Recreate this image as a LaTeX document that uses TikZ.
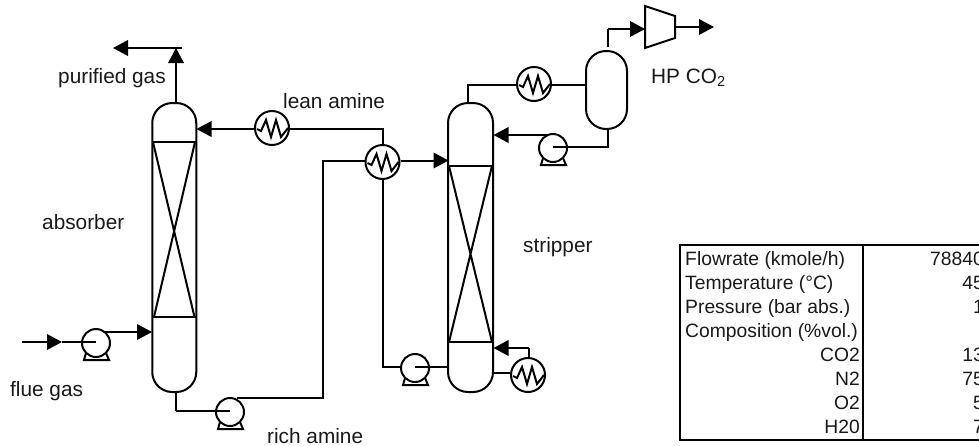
\documentclass[tikz,border=0pt]{standalone}
\usepackage{fontspec}
\setmainfont{Liberation Sans}
\usetikzlibrary{arrows.meta}
\tikzset{
  lin/.style={draw=black,line width=2pt,line join=miter},
  flow/.style={lin,-{Triangle[length=15pt,width=15.5pt]}},
  column/.style={draw=black,line width=2pt,rounded corners=20pt,inner sep=0pt,minimum width=#1,fill=white},
  hx/.style={draw=black,line width=2pt,circle,inner sep=0pt,minimum size=34pt,fill=white},
  pumpbody/.style={draw=black,line width=2pt,circle,inner sep=0pt,minimum size=28pt,fill=white},
  lab/.style={font=\fontsize{20.8pt}{24pt}\selectfont,anchor=base west,inner sep=0pt,text=black!90},
  cell/.style={font=\fontsize{19.3pt}{24pt}\selectfont,inner sep=0pt,text=black!90},
}
\newcommand{\zigzag}[1]{\draw[line width=2pt,line join=miter] ([shift={(-15,1)}]#1.center) -- ([shift={(-11,3)}]#1.center) -- ([shift={(-6,-8)}]#1.center) -- ([shift={(-1,9)}]#1.center) -- ([shift={(4,-8)}]#1.center) -- ([shift={(9,9)}]#1.center) -- ([shift={(16,0)}]#1.center);}
\newcommand{\pumpfoot}[1]{\draw[line width=2pt,line join=miter] ([shift={(-10,10)}]#1.center) -- ([shift={(-12,17)}]#1.center) -- ([shift={(13,17)}]#1.center) -- ([shift={(10,10)}]#1.center);}
\begin{document}
\begin{tikzpicture}[x=1pt,y=-1pt]
\useasboundingbox (0,0) rectangle (979,445);
\clip (0,0) rectangle (979,445);

% ports
\coordinate (absTop) at (176,103);
\coordinate (purA) at (176,48);
\coordinate (purB) at (182,48);
\coordinate (purC) at (113,48);
\coordinate (absLean) at (196.5,129);
\coordinate (leanBend) at (383,129);
\coordinate (absFeed) at (152,332);
\coordinate (flueIn) at (22,342);
\coordinate (flueTip) at (62,342);
\coordinate (flueOut) at (105,332);
\coordinate (absBot) at (176,392);
\coordinate (richA) at (176,411);
\coordinate (richOut) at (237,398);
\coordinate (richB) at (323,398);
\coordinate (richC) at (323,160.5);
\coordinate (strFeed) at (448.5,160.5);
\coordinate (retA) at (383,367);
\coordinate (strBotL) at (449,367);
\coordinate (strTop) at (468,103);
\coordinate (ovA) at (468,85);
\coordinate (vesL) at (586,85);
\coordinate (vesTop) at (608,47);
\coordinate (vesTopB) at (608,29);
\coordinate (compIn) at (645,29);
\coordinate (compOut) at (675,27);
\coordinate (compTip) at (714,27);
\coordinate (vesBot) at (608,129);
\coordinate (vesBotB) at (608,147);
\coordinate (refOut) at (548,135);
\coordinate (strRef) at (493.5,135);
\coordinate (strReb) at (493,373);
\coordinate (rebTop) at (529,358);
\coordinate (rebB) at (529,348);
\coordinate (strRet) at (493.5,348);

% equipment
\node[column=44pt,minimum height=289pt] (absorber) at (174.25,247.5) {};
\node[column=45pt,minimum height=289pt] (stripper) at (470.5,247.5) {};
\node[column=41pt,minimum height=78pt] (vessel) at (606.5,90) {};
\node[hx] (hxa) at (272,128) {};
\node[hx] (hxb) at (382.5,162) {};
\node[hx] (hxc) at (534,84) {};
\node[hx] (hxd) at (528,375) {};
\node[pumpbody] (pumpa) at (96,343) {};
\node[pumpbody] (pumpb) at (230,412) {};
\node[pumpbody] (pumpc) at (415,368) {};
\node[pumpbody] (pumpd) at (553,148) {};

% packing
\draw[line width=2pt] (152.5,142) -- (196,142);
\draw[line width=2pt] (152.5,317) -- (196,317);
\draw[line width=2pt] (153,142) -- (194.5,317) (195,142) -- (154,317);
\draw[line width=2pt] (448,166) -- (493,166);
\draw[line width=2pt] (448,342) -- (493,342);
\draw[line width=2pt] (449,166) -- (492,342) (492,166) -- (449,342);

% compressor
\draw[line width=2pt,line join=miter] (645,6) -- (675,16) -- (675,38) -- (645,48) -- cycle;

% details
\zigzag{hxa}\zigzag{hxb}\zigzag{hxc}\zigzag{hxd}
\pumpfoot{pumpa}\pumpfoot{pumpb}\pumpfoot{pumpc}\pumpfoot{pumpd}

% connectors
\draw[flow] (absTop) -- (purA);
\draw[flow] (purB) -- (purC);
\draw[lin] (hxa.east |- leanBend) -- (leanBend) -- (hxb.north -| leanBend);
\draw[flow] (hxa.west |- absLean) -- (absLean);
\draw[flow] (hxb.east |- strFeed) -- (strFeed);
\draw[lin] (richA) -- (absBot);
\draw[lin] (richA) -- (pumpb.center |- richA) ;
\draw[lin] (richOut) -- (richB) -- (richC) -- (hxb.west |- richC);
\draw[lin] (hxb.south -| retA) -- (retA) -- (pumpc.west |- retA);
\draw[lin] (pumpc.center |- retA) -- (strBotL);
\draw[flow] (flueIn) -- (flueTip);
\draw[lin] (flueTip) -- (pumpa.center |- flueTip);
\draw[flow] (flueOut) -- (absFeed);
\draw[lin] (strTop) -- (ovA) -- (hxc.west |- ovA);
\draw[lin] (hxc.east |- ovA) -- (vesL);
\draw[lin] (vesTop) -- (vesTopB);
\draw[flow] (vesTopB) -- (compIn);
\draw[flow] (compOut) -- (compTip);
\draw[lin] (vesBot) -- (vesBotB) -- (pumpd.center |- vesBotB);
\draw[flow] (refOut) -- (strRef);
\draw[lin] (strReb) -- (hxd.west |- strReb);
\draw[lin] (rebTop) -- (rebB);
\draw[flow] (rebB) -- (strRet);

% labels
\node[lab] (tPur) at (58,83) {purified gas};
\node[lab] (tLean) at (283,108) {lean amine};
\node[lab] (tAbs) at (42,229) {absorber};
\node[lab] (tFlue) at (10,396) {flue gas};
\node[lab] (tRich) at (267,443) {rich amine};
\node[lab] (tStr) at (523,252) {stripper};
\node[lab] (tHP) at (651,83) {HP CO\textsubscript{2}};

% table
\draw[line width=2.2pt] (680,245) rectangle (990,440);
\draw[line width=1.8pt] (863,245) -- (863,440);
\node[cell,anchor=base west] (c1) at (685,265) {Flowrate (kmole/h)};
\node[cell,anchor=base west] (c2) at (685,289) {Temperature (°C)};
\node[cell,anchor=base west] (c3) at (685,313) {Pressure (bar abs.)};
\node[cell,anchor=base west] (c4) at (685,337) {Composition (\%vol.)};
\node[cell,anchor=base east] (c5) at (860,361) {CO2};
\node[cell,anchor=base east] (c6) at (860,385) {N2};
\node[cell,anchor=base east] (c7) at (860,409) {O2};
\node[cell,anchor=base east] (c8) at (860,433) {H20};
\node[cell,anchor=base east] (v1) at (984,265) {78840};
\node[cell,anchor=base east] (v2) at (984,289) {45};
\node[cell,anchor=base east] (v3) at (984,313) {1};
\node[cell,anchor=base east] (v5) at (984,361) {13};
\node[cell,anchor=base east] (v6) at (984,385) {75};
\node[cell,anchor=base east] (v7) at (984,409) {5};
\node[cell,anchor=base east] (v8) at (984,433) {7};
\end{tikzpicture}
\end{document}
